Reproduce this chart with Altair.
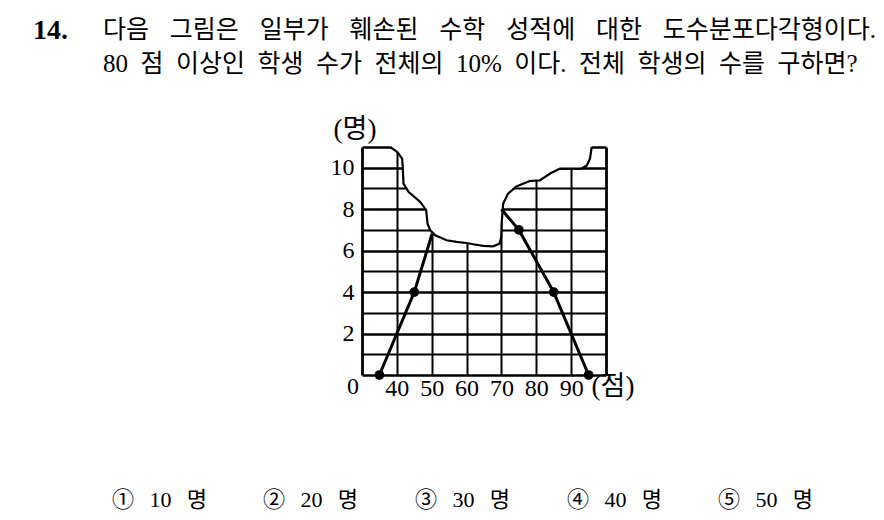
import altair as alt
import pandas as pd

# ---------------- data ----------------
x_ticks = [30, 40, 50, 60, 70, 80, 90, 100]
y_ticks = list(range(0, 12))

# visible parts of the frequency polygon
left_x = [35, 45, 50.1]
left_y = [0, 4, 6.8]
right_x = [70, 75, 85, 95]
right_y = [8, 7, 4, 0]
dot_x = [35, 45, 75, 85, 95]
dot_y = [0, 4, 7, 4, 0]

# torn (damaged) edge of the graph
tear_x = [38.1, 40.2, 41.5, 41.7, 41.9, 43.4, 46.7, 48.4, 48.8, 49.6, 51.0,
          54.3, 57.1, 60.0, 61.9, 64.8, 67.6, 69.5, 69.95, 70.05, 70.5, 71.9,
          74.3, 78.1, 81.0, 84.0, 86.8, 93.0, 94.5, 95.4, 95.9]
tear_y = [11.0, 10.75, 10.44, 10.03, 9.23, 8.83, 8.35, 7.95, 7.3, 6.98, 6.74,
          6.5, 6.42, 6.37, 6.31, 6.23, 6.21, 6.34, 6.66, 7.3, 8.27, 8.75,
          9.1, 9.36, 9.39, 9.72, 9.96, 9.96, 10.11, 10.44, 11.0]

question_no = "14."
line1 = "다음 그림은 일부가 훼손된 수학 성적에 대한 도수분포다각형이다."
line2 = "80 점 이상인 학생 수가 전체의 10% 이다. 전체 학생의 수를 구하면?"
choice_marks = ["①", "②", "③", "④", "⑤"]
choice_vals = ["10", "20", "30", "40", "50"]
unit_y = "(명)"
unit_x = "(점)"

# ---------------- layout ----------------
W, H = 244, 228
PAD_L, PAD_T = 354, 139
PAD_R = 868 - PAD_L - W
PAD_B = 504 - PAD_T - H
OX, OY = 8 + PAD_L, 8 + PAD_T   # page -> view offset
TOP = 11.3                      # upper limit of the white (torn-away) region

SERIF = "Liberation Serif, Noto Sans CJK KR"
SP_WIDE = "\u2002\u2004"
SP_MID = "\u2002\u2009"
SP = "\u2002"

xs = alt.Scale(domain=[30, 100], nice=False, zero=False)
ys = alt.Scale(domain=[0, 11], nice=False, zero=True)

xaxis = alt.Axis(
    values=x_ticks, title=None, ticks=False, domain=False, grid=True,
    gridColor="black", gridOpacity=1,
    gridWidth={"condition": {"test": "datum.value == 30 || datum.value == 100", "value": 2.8}, "value": 2.0},
    labelExpr="datum.value > 30 && datum.value < 100 ? datum.label : ''",
    labelFont=SERIF, labelFontSize=24, labelColor="black", labelPadding=1,
    labelOverlap=False, labelFlush=False,
)
yaxis = alt.Axis(
    values=y_ticks, title=None, ticks=False, domain=False, grid=True,
    gridColor="black", gridOpacity=1,
    gridWidth={"condition": {"test": "datum.value % 2 == 0 || datum.value == 11", "value": 2.6}, "value": 1.8},
    labelExpr="datum.value % 2 == 0 && datum.value > 0 ? datum.label : ''",
    labelFont=SERIF, labelFontSize=24, labelColor="black", labelPadding=8,
    labelOverlap=False, labelFlush=False,
)

X = alt.X("x:Q", scale=xs, axis=xaxis)
Y = alt.Y("y:Q", scale=ys, axis=yaxis)

tear_df = pd.DataFrame({"x": tear_x, "y": tear_y, "i": list(range(len(tear_x)))})
tear_df["top"] = TOP
poly_df = pd.DataFrame({
    "x": left_x + right_x,
    "y": left_y + right_y,
    "s": ["L"] * len(left_x) + ["R"] * len(right_x),
    "i": list(range(len(left_x))) + list(range(len(right_x))),
})
dot_df = pd.DataFrame({"x": dot_x, "y": dot_y})

tear_fill = alt.Chart(tear_df).mark_area(
    color="white", fill="white", opacity=1, fillOpacity=1, interpolate="linear"
).encode(
    x=X, y=Y, y2=alt.Y2("top:Q")
)
tear_line = alt.Chart(tear_df).mark_line(color="black", strokeWidth=2.2).encode(
    x=X, y=Y, order="i:Q"
)
poly = alt.Chart(poly_df).mark_line(color="black", strokeWidth=3).encode(
    x=X, y=Y, detail="s:N", order="i:Q"
)
dots = alt.Chart(dot_df).mark_circle(color="black", opacity=1, size=95).encode(x=X, y=Y)


def label(text, px, py, size, align="left", weight="normal", font=SERIF):
    return alt.Chart(pd.DataFrame({"t": [text]})).mark_text(
        align=align, baseline="middle", fontSize=size, font=font,
        fontWeight=weight, color="black",
    ).encode(x=alt.value(px - OX), y=alt.value(py - OY), text="t:N")


texts = [
    label(question_no, 33, 31, 28, weight="bold", font="Liberation Serif"),
    label(line1.replace(" ", SP_WIDE), 103, 30, 25),
    label(line2.replace(" ", SP), 103, 64, 25),
    label(unit_y, 355, 130, 27, align="center"),
    label(unit_x, 613, 387, 27, align="center"),
    label("0", 353, 387, 24, align="center"),
]
choice_x = [112, 263, 415, 567, 718]
for m, v, cx in zip(choice_marks, choice_vals, choice_x):
    texts.append(label(f"{m}{SP_MID}{v}{SP_MID}명", cx, 500, 22))

chart = alt.layer(tear_fill, tear_line, poly, dots, *texts).properties(
    width=W, height=H,
    autosize=alt.AutoSizeParams(type="none"),
    padding={"left": PAD_L, "top": PAD_T, "right": PAD_R, "bottom": PAD_B},
    background="white",
).configure_view(stroke=None)

chart.save("out.html", embed_options={"renderer": "svg", "actions": False})
